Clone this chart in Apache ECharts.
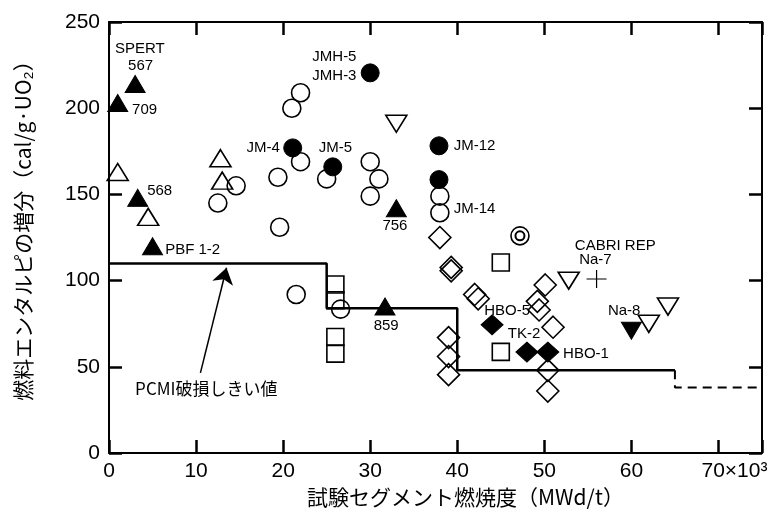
<!DOCTYPE html>
<html>
<head>
<meta charset="utf-8">
<script src="https://cdn.jsdelivr.net/npm/echarts@6/dist/echarts.min.js"></script>
<style>
html,body{margin:0;padding:0;background:#fff;}
#c{width:783px;height:513px;}
</style>
</head>
<body>
<div id="c"></div>
<script>
// ---- data (burnup in 10^3 MWd/t, enthalpy increment in cal/g·UO2) ----
const xTicks = [0, 10, 20, 30, 40, 50, 60, 70];
const yTicks = [0, 50, 100, 150, 200, 250];
const filledTriangles = [[3,214],[1,203],[3.3,148],[5,120],[33,142],[31.7,85]];
const openTriangles = [[1,163],[4.5,137],[12.8,171],[13,158]];
const openCircles = [[14.6,155],[12.5,145],[19.4,160],[19.6,131],[21,200],[22,209],[22,169],[25,159],[30,169],[31,159],[30,149],[38,149],[38,139.4],[21.5,92],[26.6,83.5]];
const filledCircles = [[30,220.5],[21.1,177],[25.7,166],[37.9,178.2],[37.9,158.6]];
const openInvTriangles = [[33,191],[52.8,100],[62,75],[64.2,85]];
const filledInvTriangles = [[60,71]];
const plusPoints = [[56,101]];
const doubleCircles = [[47.2,126]];
const openSquares = [[45,110.5],[45,58.7],[26,97.8],[26,88.6],[26,67.3],[26,57.7]];
const openDiamonds = [[38,125],[39.3,105.7],[39.3,107.7],[42.4,89.5],[42,92],[39,67],[39,56],[39,45.5],[50.1,97.5],[49.4,83],[49.2,88],[51,73],[50.4,48],[50.4,36]];
const filledDiamonds = [[44,74.4],[48,58.6],[50.4,58.6]];
const pcmiThreshold = [[0,110],[25,110],[25,84],[40,84],[40,48],[65,48]];
const pcmiThresholdExtended = [[65,48],[65,38],[75,38]];
const arrowFrom = [10.5,46.5];
const arrowTo = [13.5,107.5];
// annotation texts with anchor (left edge, vertical middle) in data coords
const annotations = [
  ['SPERT',0.69,234.5],['567',2.19,224.3],['709',2.65,199],['568',4.38,151.8],['PBF 1-2',6.45,117.8],
  ['JM-4',15.8,176.9],['JMH-5',23.35,229.7],['JMH-3',23.35,218.6],['JM-5',24.1,176.9],
  ['JM-12',39.6,178.2],['JM-14',39.6,141.7],['756',31.4,132],['859',30.4,73.6],
  ['CABRI REP',53.5,120.1],['Na-7',54.0,112],['HBO-5',43.1,82.6],['TK-2',45.8,69.2],
  ['HBO-1',52.15,57.7],['Na-8',57.3,82.6]
];
const thresholdLabel = ['PCMI破損しきい値',3.0,37.5];
const xName = '試験セグメント燃焼度（MWd/t）';
const yName = '燃料エンタルピの増分（cal/g·UO₂）';
const X_MIN = 0, X_MAX = 75, Y_MIN = 0, Y_MAX = 250;

const GRID = {left:109, right:21, top:22, bottom:58};
const TICK_PX = 13;

const chart = echarts.init(document.getElementById('c'), null, {renderer:'canvas'});
const LAT = '"Liberation Sans", Arial, sans-serif';
const CJK = '"Noto Sans CJK JP", sans-serif';
const BLK = '#000';
const openStyle = {color:'transparent', borderColor:BLK, borderWidth:1.6, opacity:1};
const fillStyle = {color:BLK, borderColor:BLK, borderWidth:1, opacity:1};
function sc(data, symbol, size, style, z){
  return {type:'scatter', data:data, symbol:symbol, symbolSize:size, itemStyle:style, z:z||3, silent:true, animation:false};
}
const plusPath = 'path://M9.4,0h1.2v9.4h9.4v1.2h-9.4v9.4h-1.2v-9.4h-9.4v-1.2h9.4z';
const invTri = 'path://M0,0L2,0L1,1.7Z';

function mkAxis(extra){
  return Object.assign({
    type:'value',
    axisLine:{show:true,onZero:false,lineStyle:{color:BLK,width:2}},
    axisTick:{show:true,inside:true,length:TICK_PX,lineStyle:{color:BLK,width:2.5}},
    splitLine:{show:false}
  }, extra);
}

chart.setOption({
  backgroundColor:'#fff',
  animation:false,
  grid:GRID,
  xAxis:[
    mkAxis({min:X_MIN,max:X_MAX,interval:10,position:'bottom',
      name:xName, nameLocation:'middle', nameGap:26,
      nameTextStyle:{fontFamily:CJK,fontSize:21,color:BLK,padding:[0,0,0,60]},
      axisLabel:{show:true,margin:8,fontFamily:LAT,fontSize:21,color:BLK,
        formatter:function(v){ if(xTicks.indexOf(v)<0) return ''; return v===70 ? '{s|}70×10³' : String(v); },
        rich:{s:{width:32}}
      }}),
    mkAxis({min:X_MIN,max:X_MAX,interval:10,position:'top',axisLabel:{show:false}})
  ],
  yAxis:[
    mkAxis({min:Y_MIN,max:Y_MAX,interval:50,position:'left',
      name:yName, nameLocation:'middle', nameGap:75, nameRotate:90,
      nameTextStyle:{fontFamily:CJK,fontSize:21,color:BLK,padding:[0,0,0,24]},
      axisLabel:{show:true,margin:9,fontFamily:LAT,fontSize:21,color:BLK,
        formatter:function(v){ return yTicks.indexOf(v)<0 ? '' : String(v); }}}),
    mkAxis({min:Y_MIN,max:Y_MAX,interval:50,position:'right',axisLabel:{show:false}})
  ],
  series:[
    {type:'line', data:pcmiThreshold, symbol:'none', lineStyle:{color:BLK,width:2.5}, z:2, silent:true},
    {type:'line', data:pcmiThresholdExtended, symbol:'none', lineStyle:{color:BLK,width:2,type:[9,6]}, z:2, silent:true},
    {type:'lines', coordinateSystem:'cartesian2d', data:[{coords:[arrowFrom, arrowTo]}],
      symbol:['none','arrow'], symbolSize:[7,16], lineStyle:{color:BLK,width:1.5,opacity:1}, z:2, silent:true},
    sc(openSquares,'rect',17,openStyle),
    sc(openDiamonds,'diamond',[22,22],openStyle),
    sc(openCircles,'circle',18,openStyle),
    sc(openTriangles,'triangle',[21,17],openStyle),
    sc(openInvTriangles,invTri,[21,17],openStyle),
    sc(doubleCircles,'circle',18,openStyle),
    sc(doubleCircles,'circle',9,{color:'transparent',borderColor:BLK,borderWidth:2,opacity:1}),
    sc(plusPoints,plusPath,[20,18],{color:BLK,opacity:1}),
    sc(filledCircles,'circle',18,fillStyle,4),
    sc(filledTriangles,'triangle',[20,17],fillStyle,4),
    sc(filledInvTriangles,invTri,[20,17],fillStyle,4),
    sc(filledDiamonds,'diamond',[22,20],fillStyle,4),
    {type:'scatter', symbolSize:0, silent:true, z:5, itemStyle:{opacity:1},
      data:annotations.map(a=>({value:[a[1],a[2]], name:a[0]})),
      label:{show:true, position:'inside', align:'left', verticalAlign:'middle',
        formatter:'{b}', fontFamily:LAT, fontSize:15, color:BLK, opacity:1}},
    {type:'scatter', symbolSize:0, silent:true, z:5, itemStyle:{opacity:1},
      data:[{value:[thresholdLabel[1],thresholdLabel[2]], name:thresholdLabel[0]}],
      label:{show:true, position:'inside', align:'left', verticalAlign:'middle',
        formatter:'{b}', fontFamily:CJK, fontSize:17, color:BLK, opacity:1}}
  ]
});
</script>
</body>
</html>
